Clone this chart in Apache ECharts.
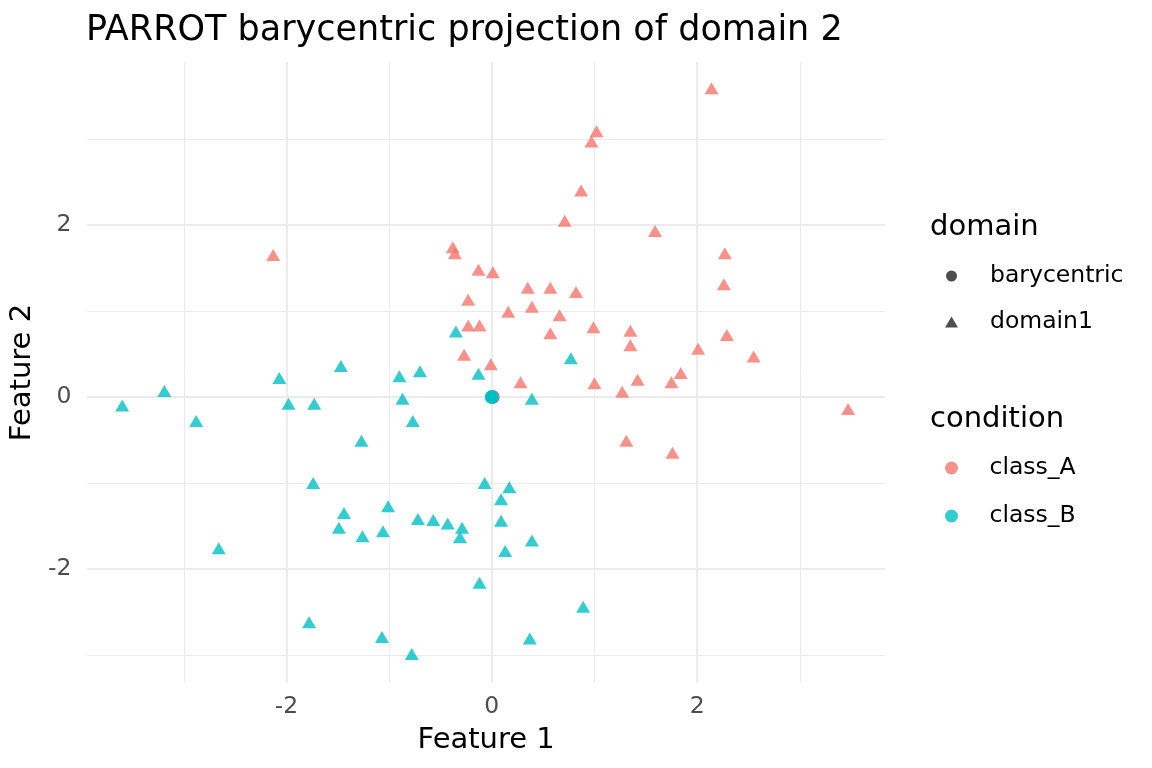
<!DOCTYPE html>
<html>
<head>
<meta charset="utf-8">
<script src="https://cdn.jsdelivr.net/npm/echarts@6/dist/echarts.min.js"></script>
<style>html,body{margin:0;padding:0;background:#fff}#c{width:1152px;height:768px}</style>
</head>
<body>
<div id="c"></div>
<script>
// ---- data ----
var classA_domain1 = [
  [2.14,3.59],[1.02,3.09],[0.97,2.97],[0.87,2.40],[0.71,2.05],[1.59,1.93],[-2.13,1.65],
  [-0.38,1.74],[-0.36,1.67],[2.27,1.67],[-0.13,1.48],[0.01,1.45],[2.26,1.31],[0.35,1.27],
  [0.57,1.27],[0.82,1.22],[-0.23,1.13],[0.39,1.05],[0.16,0.99],[0.66,0.95],[-0.23,0.83],
  [-0.12,0.83],[0.99,0.81],[1.35,0.77],[0.57,0.74],[2.29,0.72],[1.35,0.60],[2.01,0.56],
  [-0.27,0.49],[2.55,0.47],[-0.01,0.38],[1.84,0.28],[0.28,0.17],[1.00,0.16],[1.42,0.20],
  [1.75,0.17],[1.27,0.06],[3.47,-0.14],[1.31,-0.51],[1.76,-0.65]
];
var classB_domain1 = [
  [-3.60,-0.10],[-3.19,0.07],[-2.88,-0.28],[-2.66,-1.76],[-2.07,0.22],[-1.98,-0.08],
  [-1.73,-0.08],[-1.47,0.36],[-1.74,-1.00],[-1.27,-0.51],[-0.90,0.24],[-0.70,0.30],
  [-0.87,-0.02],[-0.77,-0.28],[-0.35,0.76],[-0.13,0.27],[0.77,0.45],[0.39,-0.02],
  [-0.07,-1.00],[0.17,-1.05],[-1.01,-1.27],[-1.44,-1.35],[-1.49,-1.52],[-1.06,-1.56],
  [-1.26,-1.62],[-0.72,-1.42],[-0.57,-1.43],[-0.43,-1.47],[-0.29,-1.52],[-0.31,-1.63],
  [0.09,-1.19],[0.09,-1.44],[0.13,-1.79],[0.39,-1.67],[-0.12,-2.16],[0.89,-2.44],
  [-1.78,-2.62],[-1.07,-2.79],[0.37,-2.81],[-0.78,-2.99]
];
var classA_barycentric = [[0.01,0.0]];
var classB_barycentric = [[0.0,0.0]];

var xTicks = [-2, 0, 2];
var yTicks = [-2, 0, 2];
var xMinor = [-3, -1, 1, 3];
var yMinor = [-3, -1, 1, 3];
var xRange = [-3.94, 3.83];
var yRange = [-3.326, 3.895];

var domainLegend = ['barycentric', 'domain1'];
var conditionLegend = ['class_A', 'class_B'];

// ---- chart ----
var RED = '#F8766D', CYAN = '#00BFC4';
var FONT = 'DejaVu Sans';
var chart = echarts.init(document.getElementById('c'), null, {renderer: 'canvas'});

function gridLines() {
  var d = [];
  xTicks.forEach(function (v) { d.push({xAxis: v, lineStyle: {width: 2}}); });
  yTicks.forEach(function (v) { d.push({yAxis: v, lineStyle: {width: 2}}); });
  xMinor.forEach(function (v) { d.push({xAxis: v, lineStyle: {width: 1}}); });
  yMinor.forEach(function (v) { d.push({yAxis: v, lineStyle: {width: 1}}); });
  return d;
}

var option = {
  animation: false,
  backgroundColor: '#fff',
  textStyle: {fontFamily: FONT},
  title: [
    {text: 'PARROT barycentric projection of domain 2', left: 86, top: 13, padding: 0,
     textStyle: {fontFamily: FONT, fontSize: 35, fontWeight: 'normal', color: '#000'}},
    {text: 'domain', left: 930, top: 213, padding: 0,
     textStyle: {fontFamily: FONT, fontSize: 29, fontWeight: 'normal', color: '#000'}},
    {text: 'condition', left: 930, top: 405, padding: 0,
     textStyle: {fontFamily: FONT, fontSize: 29, fontWeight: 'normal', color: '#000'}}
  ],
  legend: [
    {orient: 'vertical', left: 945, top: 264, padding: 0, itemGap: 22,
     itemWidth: 13, itemHeight: 11, selectedMode: false,
     textStyle: {fontFamily: FONT, fontSize: 23.5, color: '#000', padding: [0, 0, 0, 27]},
     data: [
       {name: domainLegend[0], icon: 'circle', itemStyle: {color: '#222'}},
       {name: domainLegend[1], icon: 'triangle', itemStyle: {color: '#222'}}
     ]},
    {orient: 'vertical', left: 945, top: 456, padding: 0, itemGap: 24,
     itemWidth: 14, itemHeight: 13, selectedMode: false,
     textStyle: {fontFamily: FONT, fontSize: 23.5, color: '#000', padding: [0, 0, 0, 26]},
     data: [
       {name: conditionLegend[0], icon: 'circle', itemStyle: {color: RED, opacity: 0.8}},
       {name: conditionLegend[1], icon: 'circle', itemStyle: {color: CYAN, opacity: 0.8}}
     ]}
  ],
  grid: {left: 86, top: 62, width: 799, height: 621, containLabel: false},
  xAxis: {
    type: 'value', min: xRange[0], max: xRange[1],
    name: 'Feature 1', nameLocation: 'middle', nameGap: 43,
    nameTextStyle: {fontFamily: FONT, fontSize: 29, color: '#000'},
    axisLine: {show: false}, axisTick: {show: false}, splitLine: {show: false},
    axisLabel: {customValues: xTicks, fontFamily: FONT, fontSize: 23.5, color: '#4D4D4D', margin: 12}
  },
  yAxis: {
    type: 'value', min: yRange[0], max: yRange[1],
    name: 'Feature 2', nameLocation: 'middle', nameGap: 38, nameRotate: 90,
    nameTextStyle: {fontFamily: FONT, fontSize: 29, color: '#000'},
    axisLine: {show: false}, axisTick: {show: false}, splitLine: {show: false},
    axisLabel: {customValues: yTicks, fontFamily: FONT, fontSize: 23.5, color: '#4D4D4D', margin: 16}
  },
  series: [
    {name: 'grid', type: 'scatter', data: [], z: 0, silent: true,
     markLine: {silent: true, symbol: 'none', z: 0, animation: false,
       label: {show: false}, lineStyle: {color: '#EBEBEB', type: 'solid'}, data: gridLines()}},
    {name: domainLegend[0], type: 'scatter', data: [], itemStyle: {color: '#222'}},
    {name: domainLegend[1], type: 'scatter', data: [], symbol: 'triangle', itemStyle: {color: '#222'}},
    {name: conditionLegend[0], type: 'scatter', data: [], itemStyle: {color: RED}},
    {name: conditionLegend[1], type: 'scatter', data: [], itemStyle: {color: CYAN}},
    {name: 'A_domain1', type: 'scatter', z: 3, symbol: 'triangle', symbolSize: [14, 12],
     itemStyle: {color: RED, opacity: 0.8}, data: classA_domain1},
    {name: 'B_domain1', type: 'scatter', z: 3, symbol: 'triangle', symbolSize: [14, 12],
     itemStyle: {color: CYAN, opacity: 0.8}, data: classB_domain1},
    {name: 'A_bary', type: 'scatter', z: 4, symbol: 'circle', symbolSize: 14,
     itemStyle: {color: RED, opacity: 1}, data: classA_barycentric},
    {name: 'B_bary', type: 'scatter', z: 5, symbol: 'circle', symbolSize: 14,
     itemStyle: {color: CYAN, opacity: 1}, data: classB_barycentric}
  ]
};
chart.setOption(option);
</script>
</body>
</html>
